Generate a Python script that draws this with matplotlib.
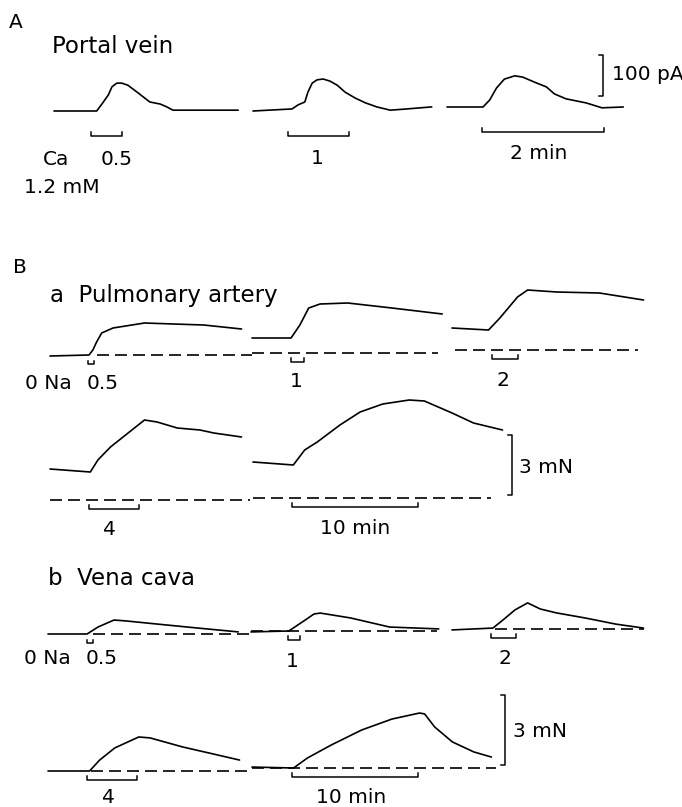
import matplotlib.pyplot as plt
import numpy as np

# ---------------- data ----------------
# A  portal vein, Ca 1.2 mM : time (min) vs inward current (pA above baseline)
pv05_t = [0, 0.70, 0.80, 0.89, 0.95, 1.03, 1.11, 1.21, 1.38, 1.57, 1.74, 1.85, 1.95, 3.02]
pv05_i = [0, 0, 20, 39, 59, 68, 68, 63, 44, 22, 17, 10, 2, 2]
pv1_t = [0, 0.64, 0.74, 0.85, 0.90, 0.97, 1.05, 1.15, 1.26, 1.38, 1.51, 1.67, 1.84, 2.03, 2.25, 2.52, 2.93]
pv1_i = [0, 5, 15, 22, 46, 68, 76, 78, 73, 63, 46, 32, 20, 10, 2, 5, 10]
pv2_t = [0, 0.59, 0.70, 0.81, 0.94, 1.11, 1.24, 1.46, 1.63, 1.76, 1.95, 2.28, 2.54, 2.89]
pv2_i = [0, 0, 17, 46, 68, 76, 73, 59, 49, 32, 20, 10, -2, 0]
pv_on = [0.61, 0.57, 0.57]
pv_dur = [0.5, 1, 2]

# Ba  pulmonary artery, 0 Na : time (min) vs tension (mN above zero)
pa05_t = [0, 3.1, 3.4, 3.7, 4.1, 5.0, 7.5, 9.8, 12.2, 15.2]
pa05_f = [-0.05, 0, 0.25, 0.65, 1.1, 1.35, 1.6, 1.55, 1.5, 1.3]
pa1_t = [0, 3.1, 3.8, 4.5, 5.4, 7.6, 11.1, 15.1]
pa1_f = [0.75, 0.75, 1.4, 2.25, 2.45, 2.5, 2.25, 1.95]
pa2_t = [0, 2.9, 3.8, 5.2, 6.0, 8.3, 11.7, 15.2]
pa2_f = [1.1, 1.0, 1.6, 2.65, 3.0, 2.9, 2.85, 2.5]
pa4_t = [0, 3.2, 3.8, 4.8, 6.3, 7.5, 8.5, 10.1, 11.9, 13.0, 15.2]
pa4_f = [1.55, 1.4, 2.0, 2.65, 3.4, 4.0, 3.9, 3.6, 3.5, 3.35, 3.15]
pa10_t = [0, 3.2, 4.1, 5.1, 6.9, 8.5, 10.3, 12.4, 13.6, 15.8, 17.5, 19.8]
pa10_f = [1.8, 1.65, 2.4, 2.8, 3.65, 4.3, 4.7, 4.9, 4.85, 4.25, 3.75, 3.4]
pa_on = [3.0, 3.1, 3.2, 3.1, 3.1]
pa_dur = [0.5, 1, 2, 4, 10]

# Bb  vena cava, 0 Na
vc05_t = [0, 3.1, 3.97, 5.24, 6.2, 8.6, 11.8, 15.1]
vc05_f = [0, 0, 0.30, 0.60, 0.56, 0.43, 0.26, 0.09]
vc1_t = [0, 3.0, 4.3, 5.0, 5.5, 7.9, 11.0, 14.9]
vc1_f = [-0.04, 0, 0.47, 0.73, 0.77, 0.56, 0.17, 0.09]
vc2_t = [0, 3.25, 4.05, 5.0, 6.0, 7.0, 8.3, 10.6, 13.0, 15.2]
vc2_f = [-0.04, 0.04, 0.39, 0.82, 1.12, 0.86, 0.69, 0.47, 0.21, 0.04]
vc4_t = [0, 3.3, 4.1, 5.3, 7.2, 8.1, 10.7, 12.8, 15.2]
vc4_f = [0, 0, 0.47, 0.99, 1.46, 1.42, 1.03, 0.77, 0.47]
vc10_t = [0, 3.3, 4.4, 6.3, 8.7, 11.1, 13.3, 13.7, 14.5, 15.9, 17.6, 19.0]
vc10_f = [0.04, 0, 0.43, 0.99, 1.63, 2.10, 2.36, 2.32, 1.76, 1.12, 0.69, 0.47]
vc_on = [3.1, 2.9, 3.1, 3.1, 3.2]
vc_dur = [0.5, 1, 2, 4, 10]

# ---------------- layout (figure pixels) ----------------
W, H = 682, 807
LW = 1.2
DASH = (0, (7.2, 3.6))
FS = 14.5
FS_TITLE = 16.5

A_ppm, A_ppu = 61.0, 0.41          # px per min, px per pA
A_x0 = [54, 253, 447]
A_y0 = [111, 111, 107]

B_ppm = 12.6
Ba_ppu = 20.0                      # px per mN
Ba_x0 = [50, 252, 452, 50, 253]
Ba_y0 = [355, 353, 350, 500, 498]
Ba_dash = [(3.7, 16.0), (0, 14.8), (0.2, 14.8), (0, 15.9), (0, 18.9)]

Bb_ppu = 23.3
Bb_x0 = [48, 251, 452, 48, 252]
Bb_y0 = [634, 631, 629, 771, 768]
Bb_dash = [(3.6, 16.0), (0, 14.8), (3.4, 15.2), (3.4, 15.9), (0, 19.4)]

fig = plt.figure(figsize=(W / 100, H / 100), dpi=100)
ax = fig.add_axes([0, 0, 1, 1])
ax.set_xlim(0, W)
ax.set_ylim(H, 0)
ax.axis('off')


def trace(x0, y0, ppm, ppu, t, v):
    t = np.asarray(t, float)
    v = np.asarray(v, float)
    ax.plot(x0 + ppm * t, y0 - ppu * v, color='k', lw=LW,
            solid_capstyle='round', solid_joinstyle='round')


def bracket(x0, y, ppm, on, dur, tick=4):
    xs = x0 + ppm * on
    xe = xs + ppm * dur
    ax.plot([xs, xs, xe, xe], [y - tick, y, y, y - tick], color='k', lw=LW * 0.9)


def zero_line(x0, y0, ppm, t0, t1):
    ax.plot([x0 + ppm * t0, x0 + ppm * t1], [y0, y0], color='k', lw=LW, ls=DASH)


def vbar(x, ybot, h):
    ax.plot([x - 4, x, x, x - 4], [ybot - h, ybot - h, ybot, ybot], color='k', lw=LW * 0.9)


def txt(x, y, s, size=FS):
    ax.text(x, y, s, fontsize=size, va='baseline', ha='left', color='k')


# ---------------- A ----------------
pv_t = [pv05_t, pv1_t, pv2_t]
pv_i = [pv05_i, pv1_i, pv2_i]
for k in range(3):
    trace(A_x0[k], A_y0[k], A_ppm, A_ppu, pv_t[k], pv_i[k])
    bracket(A_x0[k], A_y0[k] + 25, A_ppm, pv_on[k], pv_dur[k])
vbar(603, 96, 100 * A_ppu)

txt(9, 28, 'A')
txt(52, 53, 'Portal vein', FS_TITLE)
txt(612, 80, '100 pA')
txt(43, 165, 'Ca')
txt(101, 165, '0.5')
txt(311, 164, '1')
txt(510, 159, '2 min')
txt(24, 193, '1.2 mM')

# ---------------- B a ----------------
pa_t = [pa05_t, pa1_t, pa2_t, pa4_t, pa10_t]
pa_f = [pa05_f, pa1_f, pa2_f, pa4_f, pa10_f]
for k in range(5):
    trace(Ba_x0[k], Ba_y0[k], B_ppm, Ba_ppu, pa_t[k], pa_f[k])
    zero_line(Ba_x0[k], Ba_y0[k], B_ppm, *Ba_dash[k])
    bracket(Ba_x0[k], Ba_y0[k] + 9, B_ppm, pa_on[k], pa_dur[k], 3 if pa_dur[k] < 1 else 4)
vbar(512, 495, 3 * Ba_ppu)

txt(13, 273, 'B')
txt(50, 302, 'a  Pulmonary artery', FS_TITLE)
txt(25, 389, '0 Na')
txt(87, 389, '0.5')
txt(290, 387, '1')
txt(497, 386, '2')
txt(519, 473, '3 mN')
txt(103, 535, '4')
txt(320, 534, '10 min')

# ---------------- B b ----------------
vc_t = [vc05_t, vc1_t, vc2_t, vc4_t, vc10_t]
vc_f = [vc05_f, vc1_f, vc2_f, vc4_f, vc10_f]
for k in range(5):
    trace(Bb_x0[k], Bb_y0[k], B_ppm, Bb_ppu, vc_t[k], vc_f[k])
    zero_line(Bb_x0[k], Bb_y0[k], B_ppm, *Bb_dash[k])
    bracket(Bb_x0[k], Bb_y0[k] + 9, B_ppm, vc_on[k], vc_dur[k], 3 if vc_dur[k] < 1 else 4)
vbar(505, 765, 3 * Bb_ppu)

txt(48, 585, 'b  Vena cava', FS_TITLE)
txt(24, 664, '0 Na')
txt(86, 664, '0.5')
txt(286, 667, '1')
txt(498, 664, '2')
txt(513, 737, '3 mN')
txt(102, 803, '4')
txt(316, 803, '10 min')

fig.savefig('out.png', dpi=100)
